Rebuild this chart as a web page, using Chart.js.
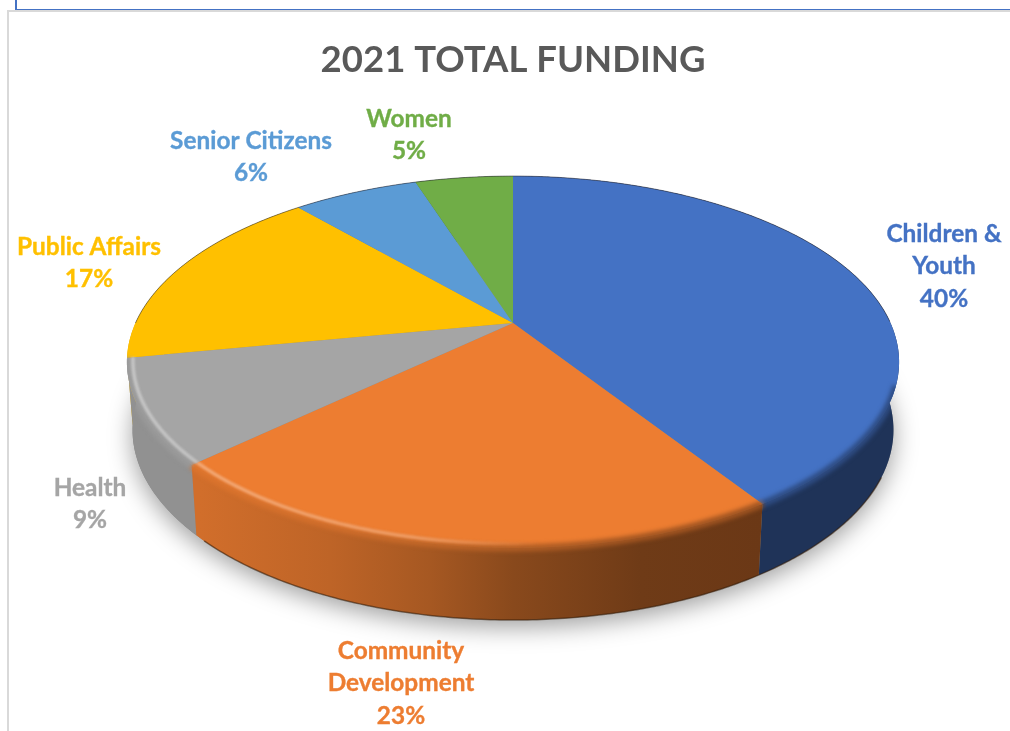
<!DOCTYPE html>
<html>
<head>
<meta charset="utf-8">
<script src="https://cdn.jsdelivr.net/npm/chart.js@4"></script>
<style>
html, body { margin: 0; padding: 0; background: #fff; overflow: hidden; }
#chart { position: absolute; left: 0; top: 0; }
.rule { position: absolute; }
</style>
</head>
<body>
<canvas id="chart" width="1010" height="731"></canvas>
<div class="rule" style="left:7px;top:10px;width:1003px;height:2px;background:#d9d9d9"></div>
<div class="rule" style="left:7px;top:10px;width:2px;height:721px;background:#d9d9d9"></div>
<div class="rule" style="left:15px;top:9px;width:995px;height:1px;background:#4472c4"></div>
<div class="rule" style="left:15px;top:0;width:2px;height:10px;background:#4472c4"></div>
<script>
const categories = ['Children & Youth', 'Community Development', 'Health', 'Public Affairs', 'Senior Citizens', 'Women'];
const funding = [40, 23, 9, 17, 6, 5];
const colors = ['#4472c4', '#ed7d31', '#a5a5a5', '#ffc000', '#5b9bd5', '#70ad47'];

// label placement, line centres in page pixels
const labelLines = [['Children &', 'Youth'], ['Community', 'Development'], ['Health'], ['Public Affairs'], ['Senior Citizens'], ['Women']];
const labelSpots = [[944, 234], [401, 651], [90, 488], [89, 247], [251, 141], [409, 119]];

// the picture is a real perspective view, so the disc goes through a projective map
const CX = 513;
const topFace = { a: 110, b: 323, c: -0.2097, d: 377.5 };
const bottomFace = { a: 100, b: 390, c: -0.2097, d: 372 };

function project(face, theta, r) {
    // small extra turns, the source's corners sit a bit off the plain projection
    const back = (theta - 5.585) / 0.21;
    const t = theta + 0.152 * Math.pow(Math.max(0, Math.sin(theta)), 2) - 0.028 * Math.exp(-back * back);
    const u = r * Math.sin(t);
    const v = -r * Math.cos(t);
    const w = 1 + face.c * v;
    return [CX + face.d * u / w, (face.a * v + face.b) / w];
}

function rimPoints(face, from, to, r) {
    const pts = [];
    const n = Math.max(2, Math.ceil((to - from) / 0.01));
    for (let i = 0; i <= n; i++) {
        pts.push(project(face, from + (to - from) * i / n, r));
    }
    return pts;
}

function tracePoints(ctx, pts, move) {
    pts.forEach((p, i) => {
        if (i === 0 && move) ctx.moveTo(p[0], p[1]);
        else ctx.lineTo(p[0], p[1]);
    });
}

function rgbOf(hex) {
    const n = parseInt(hex.slice(1), 16);
    return [n >> 16, (n >> 8) & 255, n & 255];
}

function darken(hex, amount) {
    const c = rgbOf(hex).map(v => Math.round(v * (1 - amount)));
    return `rgb(${c[0]},${c[1]},${c[2]})`;
}

function lightAlpha(hex, amount, alpha) {
    const c = rgbOf(hex).map(v => Math.round(v + (255 - v) * amount));
    return `rgba(${c[0]},${c[1]},${c[2]},${alpha})`;
}

const wallShade = [[127, 0.12], [200, 0.12], [330, 0.2], [430, 0.3], [513, 0.42], [640, 0.53], [762, 0.55], [899, 0.55]];

function wallGradient(ctx, hex) {
    const g = ctx.createLinearGradient(127, 0, 899, 0);
    wallShade.forEach(s => g.addColorStop((s[0] - 127) / 772, darken(hex, s[1])));
    return g;
}

const pie3d = {
    id: 'pie3d',
    beforeDatasetDraw(chart) {
        const ctx = chart.ctx;
        const arcs = chart.getDatasetMeta(0).data.map((arc, i) => ({
            from: arc.startAngle + Math.PI / 2,
            to: arc.endAngle + Math.PI / 2,
            color: colors[i]
        }));

        // ground shadow
        ctx.save();
        ctx.shadowColor = 'rgba(0,0,0,0.38)';
        ctx.shadowBlur = 24;
        ctx.shadowOffsetY = 7;
        ctx.fillStyle = '#888';
        ctx.beginPath();
        tracePoints(ctx, rimPoints(bottomFace, 0, Math.PI * 2, 1), true);
        ctx.closePath();
        ctx.fill();
        ctx.restore();

        // walls, back ones first
        const order = arcs.slice().sort((p, q) =>
            project(topFace, (p.from + p.to) / 2, 1)[1] - project(topFace, (q.from + q.to) / 2, 1)[1]);
        order.forEach(s => {
            ctx.beginPath();
            tracePoints(ctx, rimPoints(topFace, s.from, s.to, 1), true);
            tracePoints(ctx, rimPoints(bottomFace, s.from, s.to, 1).reverse(), false);
            ctx.closePath();
            ctx.fillStyle = wallGradient(ctx, s.color);
            ctx.fill();
        });

        // dark line under the front
        ctx.save();
        ctx.strokeStyle = 'rgba(50,25,5,0.55)';
        ctx.lineWidth = 1.5;
        ctx.beginPath();
        tracePoints(ctx, rimPoints(bottomFace, Math.PI * 0.6, Math.PI * 1.25, 1), true);
        ctx.stroke();
        ctx.restore();

        // top face
        arcs.forEach(s => {
            ctx.beginPath();
            ctx.moveTo(CX, topFace.b);
            tracePoints(ctx, rimPoints(topFace, s.from, s.to, 1), false);
            ctx.closePath();
            ctx.fillStyle = s.color;
            ctx.fill();
        });

        // soft bevel between face and wall, kept inside the silhouette
        ctx.save();
        ctx.beginPath();
        tracePoints(ctx, rimPoints(topFace, 0, Math.PI * 2, 1), true);
        ctx.closePath();
        tracePoints(ctx, rimPoints(bottomFace, 0, Math.PI * 2, 1), true);
        ctx.closePath();
        ctx.clip();
        ctx.lineCap = 'butt';
        arcs.forEach(s => {
            const a = Math.max(s.from, Math.PI * 0.56);
            const b = Math.min(s.to, Math.PI * 1.44);
            if (b <= a) return;
            const g = ctx.createLinearGradient(127, 0, 899, 0);
            wallShade.forEach(w => g.addColorStop((w[0] - 127) / 772, darken(s.color, w[1] * 0.6)));
            ctx.filter = 'blur(2px)';
            ctx.strokeStyle = g;
            ctx.lineWidth = 7;
            ctx.beginPath();
            tracePoints(ctx, rimPoints(topFace, a, b, 1), true);
            ctx.stroke();

            // lit edge fades out towards the middle
            const lit = ctx.createLinearGradient(130, 0, 540, 0);
            lit.addColorStop(0, lightAlpha(s.color, 0.4, 0.9));
            lit.addColorStop(0.7, lightAlpha(s.color, 0.3, 0.8));
            lit.addColorStop(1, lightAlpha(s.color, 0.3, 0));
            ctx.filter = 'blur(1.2px)';
            ctx.strokeStyle = lit;
            ctx.lineWidth = 3.5;
            ctx.beginPath();
            tracePoints(ctx, rimPoints(topFace, a, b, 0.985), true);
            ctx.stroke();
        });
        ctx.restore();

        // thin dark edge round the back
        ctx.save();
        ctx.strokeStyle = 'rgba(40,40,50,0.55)';
        ctx.lineWidth = 1;
        ctx.beginPath();
        tracePoints(ctx, rimPoints(topFace, -Math.PI * 0.5, Math.PI * 0.45, 1), true);
        ctx.stroke();
        ctx.restore();

        return false;
    },
    afterDatasetsDraw(chart) {
        const ctx = chart.ctx;
        ctx.save();
        ctx.font = 'bold 24.4px Lato';
        ctx.textAlign = 'center';
        ctx.textBaseline = 'middle';
        ctx.lineWidth = 0.35;
        categories.forEach((name, i) => {
            const lines = labelLines[i].concat(funding[i] + '%');
            ctx.fillStyle = colors[i];
            ctx.strokeStyle = colors[i];
            lines.forEach((line, k) => {
                ctx.fillText(line, labelSpots[i][0], labelSpots[i][1] + k * 32.5);
                ctx.strokeText(line, labelSpots[i][0], labelSpots[i][1] + k * 32.5);
            });
        });
        ctx.restore();
    }
};

new Chart(document.getElementById('chart'), {
    type: 'pie',
    data: {
        labels: categories,
        datasets: [{ data: funding, backgroundColor: colors, borderWidth: 0 }]
    },
    options: {
        responsive: false,
        devicePixelRatio: 1,
        animation: false,
        layout: { padding: { left: 16, top: 38 } },
        plugins: {
            legend: { display: false },
            tooltip: { enabled: false },
            title: {
                display: true,
                text: '2021 TOTAL FUNDING',
                color: '#595959',
                font: { family: 'Lato', size: 36.5, weight: 'bold', lineHeight: 1.2 },
                padding: 0
            }
        }
    },
    plugins: [pie3d]
});
</script>
</body>
</html>
